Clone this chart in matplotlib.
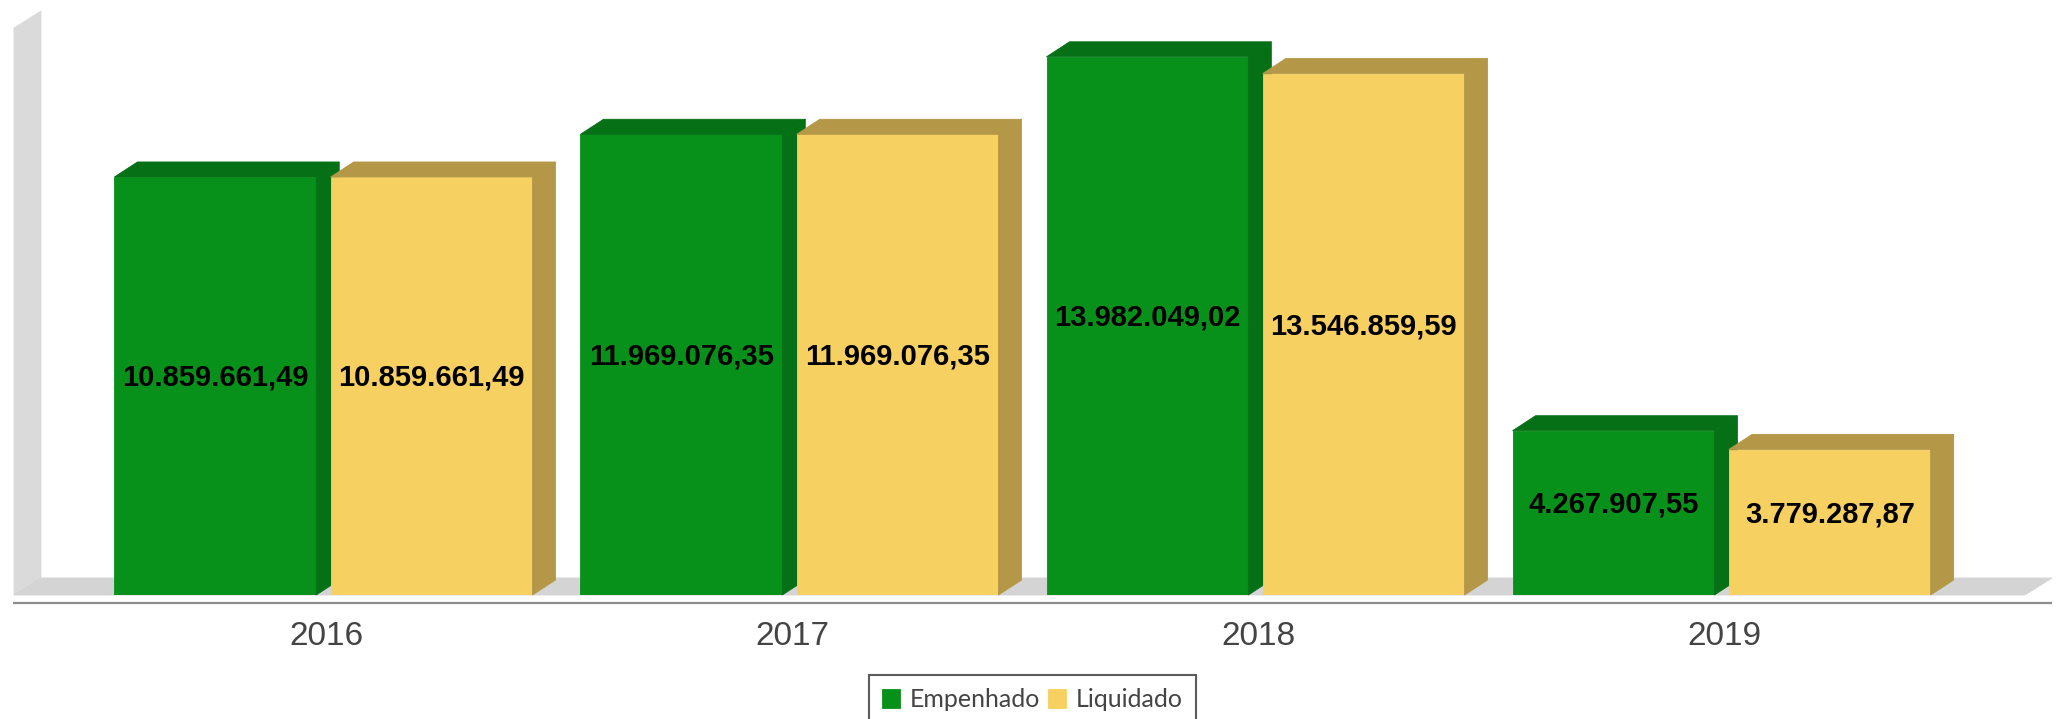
import matplotlib
matplotlib.use("Agg")
import matplotlib.pyplot as plt
import matplotlib.transforms as mtransforms
from matplotlib.patches import Polygon
from matplotlib.lines import Line2D
import numpy as np

# ---- data -------------------------------------------------------------
years = ["2016", "2017", "2018", "2019"]
empenhado = [10859661.49, 11969076.35, 13982049.02, 4267907.55]
liquidado = [10859661.49, 11969076.35, 13546859.59, 3779287.87]
series_names = ["Empenhado", "Liquidado"]

# ---- style ------------------------------------------------------------
GREEN_FRONT, GREEN_SHADE = "#07911B", "#057016"
YELLOW_FRONT, YELLOW_SHADE = "#F7D062", "#B49848"
WALL_COLOR, FLOOR_COLOR = "#DADADA", "#D4D4D4"
AXIS_LINE_COLOR = "#8C8C8C"
TEXT_GREY = "#444444"

BAR_W = 0.433        # width of a bar in category units
BAR_OFF = 0.232      # distance of each bar centre from the category centre
BAR_DX, BAR_DY = 23, 15     # 3D depth of the bars (pixels)
WALL_DX, WALL_DY = 27, 17   # 3D depth of wall and floor (pixels)


def fmt_brl(v):
    s = f"{v:,.2f}"
    return s.replace(",", "X").replace(".", ",").replace("X", ".")


W, H, DPI = 2063, 719, 100
fig = plt.figure(figsize=(W / DPI, H / DPI), dpi=DPI)
fig.patch.set_facecolor("white")

left_px, right_px = 14, 2025
base_px, top_px = 595, 28
ax = fig.add_axes([left_px / W, (H - base_px) / H,
                   (right_px - left_px) / W, (base_px - top_px) / H])
ax.set_xlim(-0.664, 3.651)
ax.set_ylim(0, 14.73e6)
ax.axis("off")

T = ax.transData
inv = T.inverted()


def add_poly(pts_px, color, z):
    ax.add_patch(Polygon(inv.transform(np.asarray(pts_px, float)), closed=True,
                         facecolor=color, edgecolor=color, linewidth=0.6,
                         zorder=z, clip_on=False))


# ---- canvas: left wall and floor --------------------------------------
(ax_l, ax_b), (ax_r, ax_t) = ax.transAxes.transform([(0, 0), (1, 1)])
add_poly([(ax_l, ax_b), (ax_l, ax_t), (ax_l + WALL_DX, ax_t + WALL_DY),
          (ax_l + WALL_DX, ax_b + WALL_DY)], WALL_COLOR, 0.5)
add_poly([(ax_l, ax_b), (ax_r, ax_b), (ax_r + WALL_DX, ax_b + WALL_DY),
          (ax_l + WALL_DX, ax_b + WALL_DY)], FLOOR_COLOR, 0.6)

# axis line just below the floor
line_y = ax_b - 8
p0, p1 = inv.transform([(ax_l - 1, line_y), (ax_r + WALL_DX, line_y)])
ax.add_line(Line2D([p0[0], p1[0]], [p0[1], p1[1]], color=AXIS_LINE_COLOR,
                   linewidth=1.6, zorder=1, clip_on=False,
                   solid_capstyle="butt"))

# ---- 3D bars ----------------------------------------------------------
x = np.arange(len(years))
series = [(empenhado, GREEN_FRONT, GREEN_SHADE, -BAR_OFF, 3),
          (liquidado, YELLOW_FRONT, YELLOW_SHADE, BAR_OFF, 4)]
containers = []
label_tf = mtransforms.offset_copy(T, fig=fig, y=8, units="dots")

for values, front, shade, off, z in series:
    bars = ax.bar(x + off, values, width=BAR_W, color=front, edgecolor=front,
                  linewidth=0.6, zorder=z)
    containers.append(bars)
    for rect, v in zip(bars, values):
        x0, x1 = rect.get_x(), rect.get_x() + rect.get_width()
        (px0, py0), (px1, py1) = T.transform([(x0, 0), (x1, v)])
        add_poly([(px0, py1), (px1, py1), (px1 + BAR_DX, py1 + BAR_DY),
                  (px0 + BAR_DX, py1 + BAR_DY)], shade, z)
        add_poly([(px1, py0), (px1 + BAR_DX, py0 + BAR_DY),
                  (px1 + BAR_DX, py1 + BAR_DY), (px1, py1)], shade, z)
        ax.text((x0 + x1) / 2, v / 2, fmt_brl(v), transform=label_tf,
                ha="center", va="center", fontsize=21, fontweight="bold",
                family="Liberation Sans", color="#000000", zorder=10)

# ---- category labels --------------------------------------------------
year_tf = mtransforms.offset_copy(ax.get_xaxis_transform(), fig=fig,
                                  x=3, y=-50, units="dots")
for xi, yr in zip(x, years):
    ax.text(xi, 0, yr, transform=year_tf, ha="center", va="baseline",
            fontsize=24, family="Liberation Sans", color=TEXT_GREY)

# ---- legend (its lower edge runs past the bottom of the figure) --------
leg = fig.legend(containers, series_names, loc="upper center",
                 bbox_to_anchor=(1032.5 / W, (H - 675) / H), ncol=2,
                 frameon=True, fancybox=False, edgecolor="#333333",
                 prop={"family": "Lato", "size": 18},
                 handlelength=0.72, handleheight=0.76, handletextpad=0.4,
                 columnspacing=0.32, borderpad=0.52, borderaxespad=0)
leg.get_frame().set_linewidth(1.5)
for t in leg.get_texts():
    t.set_color(TEXT_GREY)

fig.savefig("out.png", dpi=DPI, facecolor="white")
